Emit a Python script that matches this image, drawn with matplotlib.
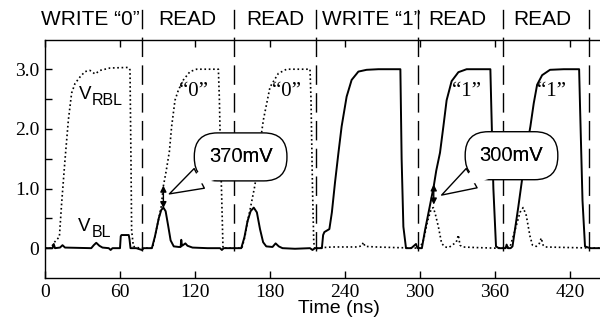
import numpy as np
import matplotlib
matplotlib.use('Agg')
import matplotlib.pyplot as plt

plt.rcParams['font.family'] = ['Liberation Serif', 'DejaVu Serif']

# bit line voltage V_BL (solid)
bl_time = [0, 6, 7, 8, 12, 14, 16, 37, 39, 41, 43.5, 46, 51, 52.5, 54, 60, 60.6, 61.2, 67, 67.6, 68.4,
           73, 76, 77.5, 79, 85.5, 88, 91, 93, 94.7, 96.5, 98.5, 100.5, 103, 107, 108.5, 109, 109.6,
           111, 112.3, 114, 118, 130, 140, 141.5, 143, 150, 157, 159.5, 162, 164.5, 167, 169.5, 172,
           174.5, 177, 182, 184.5, 187, 190, 200, 212, 214, 216, 221.5, 222.5, 223.5, 227.5, 229.5,
           232, 234.7, 237.3, 241.3, 245.3, 250.7, 257.3, 266.7, 284.3, 285.3, 286.7, 288.8, 293,
           296.8, 298, 301.5, 304, 308, 311, 313, 316, 318.7, 321.3, 325.3, 330.7, 337.3, 356.3, 357,
           358.7, 360.8, 363, 368.5, 369.3, 370.3, 372.5, 374, 378.7, 382.7, 385.5, 388.3, 391, 393.7,
           397.7, 404, 415, 427.3, 428, 430, 432, 436, 444]
bl_volt = [0, 0, 0.07, 0, 0.01, 0.05, 0.01, 0, 0.05, 0.09, 0.04, 0.01, 0, -0.03, 0, 0, 0.2, 0.22, 0.22, 0.15, 0,
           0, -0.02, -0.03, 0, 0, 0.2, 0.5, 0.64, 0.68, 0.62, 0.38, 0.13, 0.03, 0.02, 0.02, 0.14, 0.04,
           0.06, 0.08, 0.04, 0.01, 0, 0, -0.03, 0, 0, 0, 0.18, 0.45, 0.62, 0.68, 0.6, 0.32,
           0.1, 0.03, 0.02, 0.08, 0.03, 0, -0.01, 0, -0.03, 0, 0, 0.22, 0.27, 0.32, 0.6,
           1.1, 1.59, 2.04, 2.54, 2.82, 2.96, 2.99, 3.0, 3.0, 1.5, 0.36, 0, 0,
           0.07, 0, 0, 0.3, 0.72, 1.04, 1.3, 1.6, 2.04, 2.48, 2.8, 2.95, 3.0, 3.0, 2.4,
           1.0, 0.03, 0, 0, 0.06, 0, 0, 0.03, 0.7, 1.31, 1.7, 2.04, 2.43, 2.74,
           2.9, 2.99, 3.0, 3.0, 2.4, 0.8, 0.03, 0, 0]

# read bit line voltage V_RBL (dotted)
rbl_time = [0, 5, 6.7, 11.5, 13.3, 16, 18.7, 21.3, 24, 28, 32, 36, 38, 40, 44, 52, 66.7, 68, 68.8, 69.3,
            70.7, 76, 86, 88, 91, 93, 94.7, 97, 99.5, 101.3, 104, 106.7, 110.7, 116, 121.3, 138.7,
            139.5, 140.5, 141.3, 142.4, 150, 157.5, 160, 162, 164, 168, 171, 174.7, 180, 186.7, 193.3,
            212, 212.8, 214, 215, 216, 218, 222, 230, 250, 253.5, 254.7, 256, 265, 280, 300, 303, 306,
            309, 310.7, 312.5, 314.7, 317.3, 320, 323, 329, 330.7, 332, 334, 345, 361, 372, 376, 380,
            382.5, 385, 388, 390, 393, 395.5, 397, 398.5, 400, 420, 444]
rbl_volt = [0, 0, 0.08, 0.19, 0.75, 1.48, 2.15, 2.6, 2.76, 2.87, 2.96, 2.98, 2.95, 2.92, 2.98, 3.02, 3.03, 2.99, 1.43, 0.3,
            0.03, 0, 0, 0.2, 0.5, 0.7, 1.04, 1.3, 1.62, 2.04, 2.48, 2.65, 2.82, 2.96, 3.0, 3.0,
            2.5, 1.5, 0.9, 0, 0, 0, 0.2, 0.45, 0.64, 1.06, 1.6, 2.15, 2.7, 2.93, 3.0,
            3.0, 2.5, 1.0, 0.1, -0.03, 0, 0.01, 0.02, 0.02, 0.04, 0.1, 0.03, 0.02, 0.01, 0, 0.15, 0.45,
            0.66, 0.68, 0.55, 0.36, 0.08, 0.02, 0.01, 0.1, 0.22, 0.05, 0.02, 0.01, 0, 0.02, 0.3, 0.6,
            0.68, 0.55, 0.2, 0.05, 0.03, 0.08, 0.17, 0.05, 0.02, 0.01, 0]

phase_bounds = [77.3, 151.5, 216.5, 298, 366.7, 435]
phase_names = ['WRITE \u201c0\u201d', 'READ', 'READ', 'WRITE \u201c1\u201d', 'READ', 'READ']
phase_centers = [36, 114, 184, 261, 330, 398]

data_labels = ['\u201c0\u201d', '\u201c0\u201d', '\u201c1\u201d', '\u201c1\u201d']
data_label_x = [119, 193, 337, 405]

margins = ['370mV', '300mV']
margin_x = [94.7, 311]
margin_lo = [0.67, 0.73]
margin_hi = [1.05, 1.07]
bubble_xy = [(156.5, 1.53), (373.2, 1.55)]
tail_xy = [(99.5, 0.91), (317.3, 0.89)]

sans = 'Liberation Sans'

fig = plt.figure(figsize=(6, 3.24), dpi=100)
ax = fig.add_axes([0.075, 0.142, 0.925, 0.7346])

ax.plot(rbl_time, rbl_volt, color='black', lw=1.2, linestyle=(0, (1, 1.6)), zorder=2)
ax.plot(bl_time, bl_volt, color='black', lw=1.4, zorder=3)

# phase separators, running up through the header row
ax.vlines(phase_bounds, 0.112, 1.145, transform=ax.get_xaxis_transform(), colors='black',
          lw=1.0, linestyles=(0, (14, 6)), clip_on=False, zorder=1)
for name, xc in zip(phase_names, phase_centers):
    ax.text(xc, 1.088, name, transform=ax.get_xaxis_transform(), ha='center', va='center',
            fontsize=15, family=sans)

for lab, xc in zip(data_labels, data_label_x):
    ax.text(xc, 2.62, lab, ha='center', va='center', fontsize=15)

# curve names
ax.text(27.4, 2.57, 'V', ha='left', va='center', fontsize=13.5, family=sans)
ax.text(37.4, 2.47, 'RBL', ha='left', va='center', fontsize=11.5, family=sans)
ax.text(26.6, 0.36, 'V', ha='left', va='center', fontsize=13.5, family=sans)
ax.text(37.6, 0.26, 'BL', ha='left', va='center', fontsize=11.5, family=sans)

for i in range(len(margins)):
    ax.annotate('', xy=(margin_x[i], margin_hi[i]), xytext=(margin_x[i], margin_lo[i]),
                arrowprops=dict(arrowstyle='<|-|>', color='black', lw=1.0, mutation_scale=9,
                                shrinkA=0, shrinkB=0), zorder=4)
    # speech bubble: outlined box + tail, then a white wedge to open the join, then the text
    ax.annotate(margins[i], xy=tail_xy[i], xytext=bubble_xy[i], ha='center', va='center',
                fontsize=14.5, family=sans, zorder=5,
                bbox=dict(boxstyle='round,pad=0.72,rounding_size=1.15', fc='white', ec='black', lw=1.0),
                arrowprops=dict(arrowstyle='wedge,tail_width=1.1', fc='white', ec='black', lw=1.0,
                                shrinkB=0))
    ax.annotate(margins[i], xy=tail_xy[i], xytext=bubble_xy[i], ha='center', va='center',
                fontsize=14.5, family=sans, color='none', zorder=6,
                arrowprops=dict(arrowstyle='wedge,tail_width=1.6', fc='white', ec='none',
                                patchA=None, shrinkA=0, shrinkB=6))
    ax.text(bubble_xy[i][0], bubble_xy[i][1], margins[i], ha='center', va='center',
            fontsize=14.5, family=sans, zorder=7)

ax.set_xlim(0, 444)
ax.set_ylim(-0.5, 3.49)
ax.set_xticks(np.arange(0, 421, 60))
ax.set_yticks([0, 1, 2, 3])
ax.set_yticklabels(['0', '1.0', '2.0', '3.0'])
ax.set_yticks([0.5, 1.5, 2.5], minor=True)
ax.tick_params(direction='in', length=5, width=1.0, labelsize=14, top=True, pad=4)
ax.tick_params(which='minor', direction='in', length=5, width=1.0)
ax.spines['right'].set_visible(False)
for s in ['left', 'top', 'bottom']:
    ax.spines[s].set_linewidth(1.0)

ax.set_xlabel('Time (ns)', fontsize=14, family=sans, va='center')
ax.xaxis.set_label_coords(0.53, -0.13)

fig.savefig('out.png', dpi=100)
